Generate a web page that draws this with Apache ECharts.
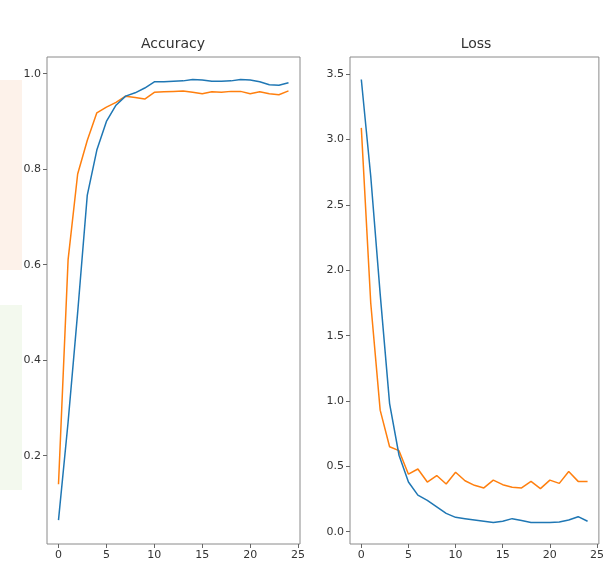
<!DOCTYPE html>
<html>
<head>
<meta charset="utf-8">
<title>Accuracy / Loss</title>
<script src="https://cdn.jsdelivr.net/npm/echarts@6/dist/echarts.min.js"></script>
<style>
  html, body { margin: 0; padding: 0; background: #fff; }
  #chart { width: 607px; height: 564px; }
</style>
</head>
<body>
<div id="chart"></div>
<script>
'use strict';

/* ── data ── */
const epochs = [0, 1, 2, 3, 4, 5, 6, 7, 8, 9, 10, 11, 12, 13, 14, 15, 16, 17, 18, 19, 20, 21, 22, 23, 24];

const accTrain = [0.065, 0.27, 0.50, 0.745, 0.84, 0.90, 0.934, 0.953, 0.960, 0.970, 0.983,
                  0.983, 0.984, 0.985, 0.988, 0.987, 0.984, 0.984, 0.985, 0.988, 0.987,
                  0.983, 0.977, 0.976, 0.981];
const accVal   = [0.14, 0.61, 0.79, 0.86, 0.918, 0.93, 0.94, 0.953, 0.95, 0.947, 0.961,
                  0.962, 0.963, 0.964, 0.961, 0.958, 0.962, 0.961, 0.963, 0.963, 0.958,
                  0.962, 0.958, 0.956, 0.964];

const lossTrain = [3.46, 2.72, 1.82, 0.98, 0.585, 0.38, 0.28, 0.24, 0.19, 0.14, 0.11,
                   0.10, 0.09, 0.08, 0.07, 0.08, 0.10, 0.085, 0.07, 0.07, 0.07,
                   0.075, 0.09, 0.115, 0.08];
const lossVal   = [3.09, 1.75, 0.93, 0.65, 0.62, 0.44, 0.48, 0.38, 0.43, 0.365, 0.455,
                   0.39, 0.355, 0.335, 0.395, 0.36, 0.34, 0.335, 0.385, 0.33, 0.395,
                   0.37, 0.46, 0.385, 0.385];

const xTicks    = [0, 5, 10, 15, 20, 25];
const accTicks  = [0.2, 0.4, 0.6, 0.8, 1.0];
const lossTicks = [0, 0.5, 1.0, 1.5, 2.0, 2.5, 3.0, 3.5];

/* ── style helpers ── */
const BLUE   = '#1f77b4';
const ORANGE = '#ff7f0e';
const FONT   = "'DejaVu Sans', sans-serif";

function pairs(ys) {
  return epochs.map((x, i) => [x, ys[i]]);
}

function xAxisFor(idx) {
  return {
    type: 'value', gridIndex: idx, min: -1.2, max: 25.2, position: 'bottom',
    axisLine: { show: false, onZero: false },
    splitLine: { show: false },
    axisTick: { show: true, length: 4, customValues: xTicks, lineStyle: { color: '#666' } },
    axisLabel: { customValues: xTicks, margin: 6, color: '#333', fontSize: 11, fontFamily: FONT }
  };
}

function yAxisFor(idx, min, max, ticks) {
  return {
    type: 'value', gridIndex: idx, min: min, max: max, position: 'left',
    axisLine: { show: false, onZero: false },
    splitLine: { show: false },
    axisTick: { show: true, length: 4, customValues: ticks, lineStyle: { color: '#666' } },
    axisLabel: {
      customValues: ticks, margin: 6, color: '#333', fontSize: 11, fontFamily: FONT,
      formatter: v => v.toFixed(1)
    }
  };
}

function lineSeries(name, idx, ys, color) {
  return {
    name: name, type: 'line',
    xAxisIndex: idx, yAxisIndex: idx,
    data: pairs(ys),
    symbol: 'none',
    lineStyle: { color: color, width: 1.5 },
    itemStyle: { color: color },
    z: color === BLUE ? 3 : 2
  };
}

const chart = echarts.init(document.getElementById('chart'), null, { renderer: 'canvas' });

chart.setOption({
  backgroundColor: '#fff',
  animation: false,
  textStyle: { fontFamily: FONT },
  title: [
    { text: 'Accuracy', left: 173, top: 37, padding: 0, textAlign: 'center',
      textStyle: { fontSize: 14, fontWeight: 'normal', color: '#333', fontFamily: FONT } },
    { text: 'Loss', left: 476, top: 37, padding: 0, textAlign: 'center',
      textStyle: { fontSize: 14, fontWeight: 'normal', color: '#333', fontFamily: FONT } }
  ],
  // faint tinted patches along the left edge of the reference
  graphic: [
    { type: 'rect', shape: { x: 0, y: 80, width: 22, height: 190 }, style: { fill: '#fdf2ea' }, z: -10 },
    { type: 'rect', shape: { x: 0, y: 305, width: 22, height: 185 }, style: { fill: '#f3f9ee' }, z: -10 }
  ],
  grid: [
    { left: 47, top: 57, width: 253, height: 487, show: true, borderColor: '#8a8a8a', borderWidth: 1, backgroundColor: 'transparent' },
    { left: 350, top: 57, width: 252, height: 487, show: true, borderColor: '#8a8a8a', borderWidth: 1, backgroundColor: 'transparent' }
  ],
  xAxis: [xAxisFor(0), xAxisFor(1)],
  yAxis: [
    yAxisFor(0, 0.015, 1.035, accTicks),
    yAxisFor(1, -0.094, 3.632, lossTicks)
  ],
  series: [
    lineSeries('accuracy', 0, accTrain, BLUE),
    lineSeries('val_accuracy', 0, accVal, ORANGE),
    lineSeries('loss', 1, lossTrain, BLUE),
    lineSeries('val_loss', 1, lossVal, ORANGE)
  ]
});
</script>
</body>
</html>
